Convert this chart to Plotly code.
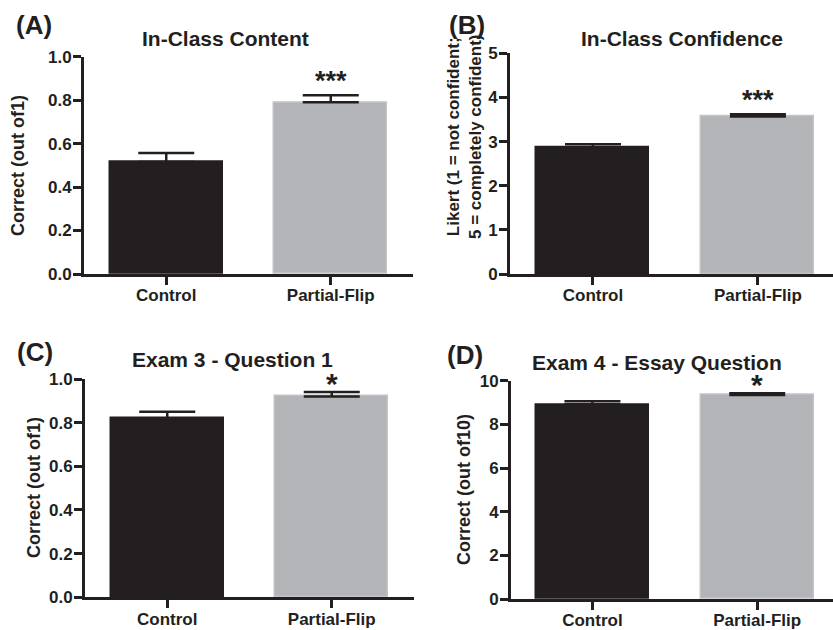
import plotly.graph_objects as go

# ---------------- data ----------------
categories = ["Control", "Partial-Flip"]

content_mean = [0.515, 0.79]
content_err = [0.042, 0.033]
content_sig = ["", "***"]

confidence_mean = [2.87, 3.57]
confidence_err = [0.07, 0.05]
confidence_sig = ["", "***"]

exam3_mean = [0.82, 0.92]
exam3_err = [0.03, 0.021]
exam3_sig = ["", "*"]

exam4_mean = [8.92, 9.34]
exam4_err = [0.14, 0.08]
exam4_sig = ["", "*"]

panel_letters = ["(A)", "(B)", "(C)", "(D)"]
panel_titles = ["In-Class Content", "In-Class Confidence",
                "Exam 3 - Question 1", "Exam 4 - Essay Question"]
y_titles = ["Correct (out of1)",
            "Likert (1 = not confident;<br>5 = completely confident)",
            "Correct (out of1)", "Correct (out of10)"]
y_ranges = [[0, 1], [0, 5], [0, 1], [0, 10]]
y_dticks = [0.2, 1, 0.2, 2]
y_formats = [".1f", "d", ".1f", "d"]

# ---------------- style ----------------
W, H = 833, 630
DARK = "#231f20"
GRAY = "#b3b4b8"
GRAY_EDGE = "#c2c3c6"
FONT = "Liberation Sans, Arial, Helvetica, sans-serif"

def px_x(p):
    return p / W

def px_y(p):
    return 1 - p / H

# panel geometry in pixels: (x0, x1, ytop, ybottom), x range
panels = [
    dict(x0=84, x1=413, yt=56.7, yb=274, xr=[-0.5, 1.5]),
    dict(x0=510, x1=833, yt=53.3, yb=274, xr=[-0.503, 1.455]),
    dict(x0=85, x1=414, yt=379, yb=597.3, xr=[-0.5, 1.5]),
    dict(x0=511, x1=833, yt=380.7, yb=599, xr=[-0.494, 1.46]),
]

means = [content_mean, confidence_mean, exam3_mean, exam4_mean]
errs = [content_err, confidence_err, exam3_err, exam4_err]
sigs = [content_sig, confidence_sig, exam3_sig, exam4_sig]

fig = go.Figure()
annotations = []

for i in range(4):
    sfx = "" if i == 0 else str(i + 1)
    xa, ya = "x" + sfx, "y" + sfx
    p = panels[i]
    fig.add_trace(go.Bar(
        x=categories, y=means[i],
        xaxis=xa, yaxis=ya,
        width=0.685,
        marker=dict(color=[DARK, GRAY], line=dict(color=[DARK, GRAY_EDGE], width=1.5)),
        error_y=dict(type="data", symmetric=False, array=errs[i], arrayminus=[0, 0],
                     color=DARK, thickness=2.5, width=28),
        showlegend=False, hoverinfo="skip",
    ))
    axis_common = dict(
        showline=True, linewidth=3, linecolor=DARK,
        ticks="outside", ticklen=8, tickwidth=3, tickcolor=DARK,
        tickfont=dict(family=FONT, size=17, color=DARK, weight="bold"),
        showgrid=False, zeroline=False, fixedrange=True, automargin=False,
    )
    fig.update_layout(**{
        "xaxis" + sfx: dict(
            domain=[px_x(p["x0"]), min(1, px_x(p["x1"]))],
            anchor=ya, type="category", range=p["xr"],
            ticklabelstandoff=-4, **axis_common),
        "yaxis" + sfx: dict(
            domain=[px_y(p["yb"]), px_y(p["yt"])],
            anchor=xa, range=y_ranges[i], dtick=y_dticks[i], tick0=0,
            tickformat=y_formats[i], ticklabelstandoff=-2, **axis_common),
    })
    # significance stars
    for c, m, e, s in zip(categories, means[i], errs[i], sigs[i]):
        if s:
            single = len(s) == 1
            annotations.append(dict(
                x=c, y=m + e, xref=xa, yref=ya, text=s, showarrow=False,
                xanchor="center", yanchor="bottom", yshift=-10 if single else -3,
                font=dict(family=FONT, size=30 if single else 27,
                          color=DARK, weight="bold")))

# panel letters
letter_pos = [(34, 25), (467, 25), (35, 352), (465, 355)]
for t, (x, y) in zip(panel_letters, letter_pos):
    annotations.append(dict(x=px_x(x), y=px_y(y), xref="paper", yref="paper",
                            text=t, showarrow=False, xanchor="center", yanchor="middle",
                            font=dict(family=FONT, size=26, color=DARK, weight="bold")))

# panel titles
title_pos = [(225, 38), (682, 38), (232, 359), (657, 362)]
for t, (x, y) in zip(panel_titles, title_pos):
    annotations.append(dict(x=px_x(x), y=px_y(y), xref="paper", yref="paper",
                            text=t, showarrow=False, xanchor="center", yanchor="middle",
                            font=dict(family=FONT, size=21, color=DARK, weight="bold")))

# y axis titles
ytitle_pos = [(18, 166), (464, 137), (34, 488), (464, 490)]
ytitle_sizes = [18, 17, 18, 18]
for t, (x, y), fs in zip(y_titles, ytitle_pos, ytitle_sizes):
    annotations.append(dict(x=px_x(x), y=px_y(y), xref="paper", yref="paper",
                            text=t, showarrow=False, xanchor="center", yanchor="middle",
                            textangle=-90,
                            font=dict(family=FONT, size=fs, color=DARK, weight="bold")))

fig.update_layout(
    template="none",
    width=W, height=H,
    margin=dict(l=0, r=0, t=0, b=0, pad=0, autoexpand=False),
    paper_bgcolor="white", plot_bgcolor="white",
    annotations=annotations,
    bargap=0,
    showlegend=False,
)

fig.write_html("out.html", config={"displayModeBar": False},
               post_script="document.body.style.margin='0';")
